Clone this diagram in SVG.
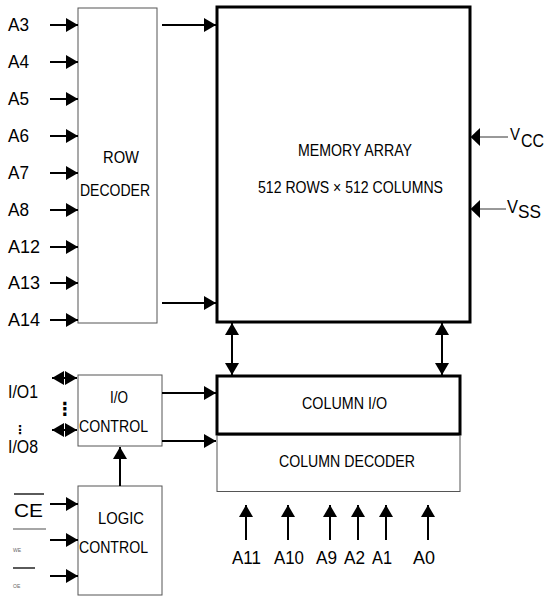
<svg xmlns="http://www.w3.org/2000/svg" width="549" height="597" viewBox="0 0 549 597">
<style>
.t{font-family:"Liberation Sans",Arial,sans-serif;fill:#000}
.box{fill:#fff;stroke:#555;stroke-width:1}
.thick{fill:#fff;stroke:#000;stroke-width:3}
.ln{stroke:#000;stroke-width:2;fill:none}
.thin{stroke:#333;stroke-width:1;fill:none}
</style>
<defs>
<marker id="ah" viewBox="0 0 12 14" refX="12" refY="7" markerWidth="12" markerHeight="14" markerUnits="userSpaceOnUse" orient="auto-start-reverse"><path d="M0,0L12,7L0,14Z" fill="#000"/></marker>
<marker id="ahs" viewBox="0 0 12 14" refX="12" refY="7" markerWidth="12" markerHeight="14" markerUnits="userSpaceOnUse" orient="auto-start-reverse"><path d="M0,0L12,7L0,14Z" fill="#000"/></marker>
</defs>

<g id="row-decoder">
<rect class="box" x="78" y="8" width="79" height="315"/>
<text class="t" x="103" y="163" font-size="16" textLength="36" lengthAdjust="spacingAndGlyphs">ROW</text>
<text class="t" x="80" y="196" font-size="16" textLength="70" lengthAdjust="spacingAndGlyphs">DECODER</text>
</g>

<g id="memory-array">
<rect class="thick" x="217" y="7" width="253" height="315"/>
<text class="t" x="298" y="156" font-size="17" textLength="114" lengthAdjust="spacingAndGlyphs">MEMORY ARRAY</text>
<text class="t" x="258" y="193" font-size="17" textLength="185" lengthAdjust="spacingAndGlyphs">512 ROWS × 512 COLUMNS</text>
</g>

<g id="column-io">
<rect class="thick" x="217" y="376" width="243" height="58"/>
<text class="t" x="302" y="409" font-size="17" textLength="85" lengthAdjust="spacingAndGlyphs">COLUMN I/O</text>
</g>

<g id="column-decoder">
<rect class="box" x="217" y="435.5" width="243" height="56"/>
<text class="t" x="279" y="467" font-size="17" textLength="136" lengthAdjust="spacingAndGlyphs">COLUMN DECODER</text>
</g>

<g id="io-control">
<rect class="box" x="78" y="375" width="84" height="71"/>
<text class="t" x="110" y="403" font-size="17" textLength="18" lengthAdjust="spacingAndGlyphs">I/O</text>
<text class="t" x="79" y="432" font-size="17" textLength="69" lengthAdjust="spacingAndGlyphs">CONTROL</text>
</g>

<g id="logic-control">
<rect class="box" x="78" y="486" width="84" height="109"/>
<text class="t" x="98" y="524" font-size="17" textLength="46" lengthAdjust="spacingAndGlyphs">LOGIC</text>
<text class="t" x="79" y="553" font-size="17" textLength="69" lengthAdjust="spacingAndGlyphs">CONTROL</text>
</g>

<g id="labels">
<text class="t" x="8" y="31" font-size="18" textLength="21" lengthAdjust="spacingAndGlyphs">A3</text>
<text class="t" x="8" y="68" font-size="18" textLength="21" lengthAdjust="spacingAndGlyphs">A4</text>
<text class="t" x="8" y="105" font-size="18" textLength="21" lengthAdjust="spacingAndGlyphs">A5</text>
<text class="t" x="8" y="142" font-size="18" textLength="21" lengthAdjust="spacingAndGlyphs">A6</text>
<text class="t" x="8" y="179" font-size="18" textLength="21" lengthAdjust="spacingAndGlyphs">A7</text>
<text class="t" x="8" y="216" font-size="18" textLength="21" lengthAdjust="spacingAndGlyphs">A8</text>
<text class="t" x="8" y="253" font-size="18" textLength="32" lengthAdjust="spacingAndGlyphs">A12</text>
<text class="t" x="8" y="289" font-size="18" textLength="32" lengthAdjust="spacingAndGlyphs">A13</text>
<text class="t" x="8" y="326" font-size="18" textLength="32" lengthAdjust="spacingAndGlyphs">A14</text>

<text class="t" x="510" y="140" font-size="17" textLength="10" lengthAdjust="spacingAndGlyphs">V</text>
<text class="t" x="521" y="147" font-size="18" textLength="23" lengthAdjust="spacingAndGlyphs">CC</text>
<text class="t" x="507" y="213" font-size="18" textLength="11" lengthAdjust="spacingAndGlyphs">V</text>
<text class="t" x="518" y="218" font-size="18" textLength="23" lengthAdjust="spacingAndGlyphs">SS</text>

<text class="t" x="232" y="564" font-size="18" textLength="29" lengthAdjust="spacingAndGlyphs">A11</text>
<text class="t" x="274" y="564" font-size="18" textLength="30" lengthAdjust="spacingAndGlyphs">A10</text>
<text class="t" x="316" y="564" font-size="18" textLength="21" lengthAdjust="spacingAndGlyphs">A9</text>
<text class="t" x="344" y="564" font-size="18" textLength="21" lengthAdjust="spacingAndGlyphs">A2</text>
<text class="t" x="372" y="564" font-size="18" textLength="20" lengthAdjust="spacingAndGlyphs">A1</text>
<text class="t" x="413" y="564" font-size="18" textLength="22" lengthAdjust="spacingAndGlyphs">A0</text>

<text class="t" x="8" y="398" font-size="18" textLength="30" lengthAdjust="spacingAndGlyphs">I/O1</text>
<text class="t" x="8" y="453" font-size="18" textLength="30" lengthAdjust="spacingAndGlyphs">I/O8</text>
<text x="56" y="415" font-family="DejaVu Sans,sans-serif" font-weight="bold" font-size="18">⋮</text>
<text x="14" y="434" font-family="DejaVu Sans,sans-serif" font-weight="bold" font-size="12">⋮</text>

<text class="t" x="14" y="517" font-size="18" textLength="29" lengthAdjust="spacingAndGlyphs">CE</text>
<line x1="14" y1="494" x2="44" y2="494" stroke="#000" stroke-width="1.3"/>
<line x1="13" y1="529" x2="46" y2="529" stroke="#888" stroke-width="1.3"/>
<text class="t" x="13" y="552" font-size="5" style="fill:#666">WE</text>
<line x1="13" y1="568" x2="35" y2="568" stroke="#000" stroke-width="1.3"/>
<text class="t" x="13" y="588" font-size="5" style="fill:#666">OE</text>
</g>

<g id="connectors">
<line class="ln" x1="50" y1="25" x2="78" y2="25" marker-end="url(#ah)"/>
<line class="ln" x1="50" y1="62" x2="78" y2="62" marker-end="url(#ah)"/>
<line class="ln" x1="50" y1="99" x2="78" y2="99" marker-end="url(#ah)"/>
<line class="ln" x1="50" y1="136" x2="78" y2="136" marker-end="url(#ah)"/>
<line class="ln" x1="50" y1="173" x2="78" y2="173" marker-end="url(#ah)"/>
<line class="ln" x1="50" y1="210" x2="78" y2="210" marker-end="url(#ah)"/>
<line class="ln" x1="50" y1="247" x2="78" y2="247" marker-end="url(#ah)"/>
<line class="ln" x1="50" y1="283" x2="78" y2="283" marker-end="url(#ah)"/>
<line class="ln" x1="50" y1="320" x2="78" y2="320" marker-end="url(#ah)"/>

<line class="ln" x1="162" y1="25" x2="216" y2="25" marker-end="url(#ah)"/>
<line class="ln" x1="162" y1="303" x2="216" y2="303" marker-end="url(#ah)"/>

<line class="thin" x1="480" y1="137" x2="508" y2="137"/>
<path d="M470.5,137L480,128L480,146Z" fill="#000"/>
<line class="thin" x1="480" y1="209" x2="506" y2="209"/>
<path d="M470.5,209L480,200L480,218Z" fill="#000"/>

<line class="ln" x1="232" y1="323" x2="232" y2="375" marker-start="url(#ah)" marker-end="url(#ah)"/>
<line class="ln" x1="442" y1="323" x2="442" y2="375" marker-start="url(#ah)" marker-end="url(#ah)"/>

<line class="ln" x1="162" y1="393" x2="216" y2="393" marker-end="url(#ah)"/>
<line class="ln" x1="162" y1="441" x2="216" y2="441" marker-end="url(#ah)"/>

<line class="ln" x1="52" y1="378" x2="77" y2="378" marker-start="url(#ahs)" marker-end="url(#ahs)"/>
<line class="ln" x1="52" y1="430" x2="77" y2="430" marker-start="url(#ahs)" marker-end="url(#ahs)"/>

<line class="ln" x1="120" y1="486" x2="120" y2="447" marker-end="url(#ah)"/>

<line class="ln" x1="50" y1="504" x2="78" y2="504" marker-end="url(#ah)"/>
<line class="ln" x1="50" y1="540" x2="78" y2="540" marker-end="url(#ah)"/>
<line class="ln" x1="50" y1="576" x2="78" y2="576" marker-end="url(#ah)"/>

<line class="ln" x1="246" y1="540" x2="246" y2="505" marker-end="url(#ah)"/>
<line class="ln" x1="288" y1="540" x2="288" y2="505" marker-end="url(#ah)"/>
<line class="ln" x1="330" y1="540" x2="330" y2="505" marker-end="url(#ah)"/>
<line class="ln" x1="358" y1="540" x2="358" y2="505" marker-end="url(#ah)"/>
<line class="ln" x1="386" y1="540" x2="386" y2="505" marker-end="url(#ah)"/>
<line class="ln" x1="428" y1="540" x2="428" y2="505" marker-end="url(#ah)"/>
</g>
</svg>
